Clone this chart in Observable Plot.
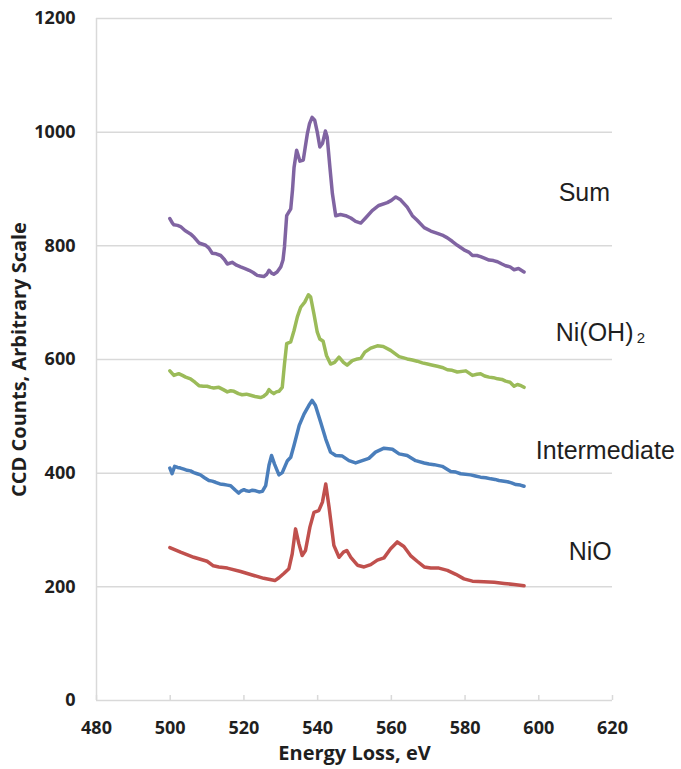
<!DOCTYPE html>
<html>
<head>
<meta charset="utf-8">
<script src="https://cdn.jsdelivr.net/npm/d3@7"></script>
<script src="https://cdn.jsdelivr.net/npm/@observablehq/plot@0.6"></script>
<style>
  html, body { margin: 0; padding: 0; background: #fff; }
  #chart { width: 681px; height: 769px; overflow: hidden; }
</style>
</head>
<body>
<div id="chart"></div>
<script>
// Energy loss (eV) vs CCD counts
const sumSeries = [
  [499.9,848],[500.6,840],[501,837],[502,836],[502.8,834],[504,827],[505.5,821],[506.5,815],[507.8,805],[509.6,801],
  [510.5,796],[511.4,787],[512.5,786],[513.7,783],[514.7,776],[515.5,768],[516.8,771],[518,766],[519.1,763],[520.3,760],
  [521.4,757],[522.5,753],[523.6,748],[524.5,747],[525.4,746],[526.2,750],[526.8,757],[527.5,752],[528.1,750],[529,754],
  [530,763],[530.6,775],[531,798],[531.6,853],[532.7,865],[533.2,900],[533.6,938],[534.3,968],[535.2,949],[536.1,951],
  [536.6,972],[537.2,997],[537.8,1015],[538.5,1026],[539.2,1021],[539.9,1000],[540.6,974],[541.3,980],[542.1,1002],[542.6,991],
  [543.3,940],[544,892],[544.9,853],[546.2,855],[547.6,853],[549,849],[550.3,843],[551.7,840],[553,849],[554.8,862],
  [556.6,871],[558.9,876],[560,880],[561.2,886],[562.5,881],[564.3,868],[565.7,853],[567,845],[568.9,832],[570.7,826],
  [572.5,822],[573.8,819],[575.2,814],[576.5,808],[577.9,801],[579.7,793],[581,789],[582,783],[583.2,783],[584.2,781],
  [585.4,778],[586.5,775],[587.7,774],[588.8,772],[590,768],[591,765],[592.2,763],[593.3,758],[594.5,760],[596,754]
];
const niohSeries = [
  [499.9,580],[501,572],[502.3,575],[503.3,572],[504.2,569],[505.5,566],[506.7,560],[507.8,554],[509,553],[510,553],
  [511,551],[511.8,550],[513.2,551],[514.4,547],[515.5,543],[516.4,545],[517.3,544],[518.5,540],[519.5,538],[520.7,539],
  [521.8,537],[523,535],[524.5,533],[525.3,535],[526.2,540],[526.8,547],[527.4,543],[528.1,540],[528.8,543],[529.5,544],
  [530.4,551],[531,592],[531.6,628],[532.7,631],[533.6,651],[534.5,675],[535.4,692],[536.5,701],[537.5,714],[538.1,710],
  [539,680],[539.9,648],[540.6,636],[541.5,632],[542.4,607],[543.5,592],[544.6,595],[545.8,604],[547,595],[548,590],
  [549.4,598],[550.8,601],[551.7,602],[552.8,613],[554.4,620],[556.2,624],[557.8,623],[559.8,616],[562.1,605],[564.3,601],
  [565.7,599],[567,597],[568.4,594],[569.8,592],[571.2,590],[572.5,588],[573.8,586],[575.2,582],[576.5,581],[577.9,578],
  [580.2,580],[582,572],[583.2,574],[584.2,575],[585.3,571],[586.5,569],[587.7,568],[588.8,566],[590,565],[591,562],
  [592.2,560],[593.3,553],[594.2,556],[595.2,554],[596,551]
];
const intermediateSeries = [
  [499.9,409],[500.5,399],[501.2,412],[502,410],[502.8,409],[503.7,407],[504.6,405],[505.5,404],[506.4,401],[507.3,399],
  [508.2,397],[509.3,392],[510.5,387],[511.4,386],[512.3,384],[513.5,381],[514.6,380],[515.5,379],[516.4,378],[517.7,370],
  [518.6,365],[519.3,369],[520,371],[520.7,369],[521.4,368],[522.3,370],[523.2,369],[524.1,367],[525,368],[525.9,378],
  [526.8,414],[527.5,431],[528.3,416],[529.5,397],[530.4,401],[531.8,422],[532.7,428],[533.6,449],[535,484],[536.3,504],
  [537.6,519],[538.5,528],[539.4,519],[540.8,490],[542.2,460],[543.5,437],[544.9,431],[546.7,430],[548.5,422],[550.3,418],
  [552.1,422],[553.9,426],[555.7,437],[557,441],[558,444],[559.2,443],[560.3,442],[562.1,434],[564.3,431],[566.6,422],
  [568.9,418],[570.2,416],[571.6,415],[573.8,412],[576.1,403],[577.5,402],[578.8,399],[581.5,397],[582.8,395],[584.2,393],
  [585.6,392],[587,390],[588.1,389],[589.2,387],[591.5,385],[592.6,383],[593.8,380],[595,379],[596,377]
];
const nioSeries = [
  [499.9,269],[502.8,261],[506.4,252],[510,245],[511.7,237],[513.2,235],[515.5,233],[519.1,227],[522.7,220],[525.4,215],
  [528.4,211],[529.5,216],[530.9,224],[532.2,232],[533.1,258],[534,302],[534.9,276],[535.8,255],[536.7,264],[537.9,305],
  [539,331],[540.3,334],[541.3,349],[542.2,381],[543.1,340],[544.4,273],[545.8,252],[547,261],[547.9,264],[549,252],
  [550.8,238],[552.6,235],[554.4,239],[556.2,247],[558,251],[559.8,267],[561.6,279],[563.4,271],[565.2,255],[567,245],
  [568.9,235],[570.7,233],[572.9,233],[575.2,229],[577.5,222],[579.7,214],[582,210],[585.1,209],[587.9,208],[590.6,206],
  [593.3,204],[596,202]
];
const seriesNames = ["Sum", "Ni(OH)", "Intermediate", "NiO"];
const seriesColors = ["#8064A2", "#9BBB59", "#4A7EBB", "#C0504D"];
const xTicks = [480, 500, 520, 540, 560, 580, 600, 620];
const yTicks = [0, 200, 400, 600, 800, 1000, 1200];
// label anchor points, in data units
const seriesLabels = [
  {text: "Sum", x: 605.4, y: 893},
  {text: "Ni(OH)", x: 604.6, y: 646},
  {text: "Intermediate", x: 599.2, y: 439},
  {text: "NiO", x: 608.1, y: 261}
];
const subscriptLabels = [{text: "2", x: 626.6, y: 637}];
const xTitle = "Energy Loss, eV";
const yTitle = "CCD Counts, Arbitrary Scale";

const allSeries = [sumSeries, niohSeries, intermediateSeries, nioSeries];
const rows = allSeries.flatMap((s, i) => s.map(([x, y]) => ({series: seriesNames[i], x, y})));

const gridColor = "#d9d9d9";
const textColor = "#1f1f1f";

const chart = Plot.plot({
  width: 681,
  height: 769,
  marginLeft: 96,
  marginRight: 69,
  marginTop: 18,
  marginBottom: 69,
  style: {fontFamily: "'Open Sans', sans-serif", fontSize: "18px", fontWeight: "bold", color: textColor, background: "#fff"},
  x: {domain: [480, 620], ticks: xTicks},
  y: {domain: [0, 1200], ticks: yTicks},
  color: {domain: seriesNames, range: seriesColors},
  marks: [
    Plot.ruleY(yTicks, {stroke: gridColor, strokeWidth: 1.5}),
    Plot.ruleX([480], {stroke: gridColor, strokeWidth: 1.5}),
    Plot.tickX(xTicks, {x: d => d, stroke: gridColor, strokeWidth: 1.5, insetTop: 677}),
    Plot.axisY(yTicks, {tickSize: 0, tickPadding: 21, label: null, fill: textColor, tickFormat: d3.format("d")}),
    Plot.axisX(xTicks, {tickSize: 0, tickPadding: 21, label: null, fill: textColor, tickFormat: d3.format("d")}),
    Plot.line(rows, {x: "x", y: "y", z: "series", stroke: "series", strokeWidth: 3.5, strokeLinejoin: "round", strokeLinecap: "round"}),
    Plot.text(seriesLabels, {x: "x", y: "y", text: "text", textAnchor: "start", fontFamily: "'Liberation Sans', Arial, sans-serif", fontWeight: "normal", fontSize: 25, fill: textColor}),
    Plot.text(subscriptLabels, {x: "x", y: "y", text: "text", textAnchor: "start", fontFamily: "'Liberation Sans', Arial, sans-serif", fontWeight: "normal", fontSize: 15, fill: textColor}),
    Plot.text([yTitle], {frameAnchor: "left", textAnchor: "middle", rotate: -90, dx: -77, fontSize: 20, fontWeight: "bold", fill: textColor}),
    Plot.text([xTitle], {frameAnchor: "bottom", textAnchor: "middle", lineAnchor: "top", dy: 45, fontSize: 20, fontWeight: "bold", fill: textColor})
  ]
});
document.getElementById("chart").appendChild(chart);
</script>
</body>
</html>
